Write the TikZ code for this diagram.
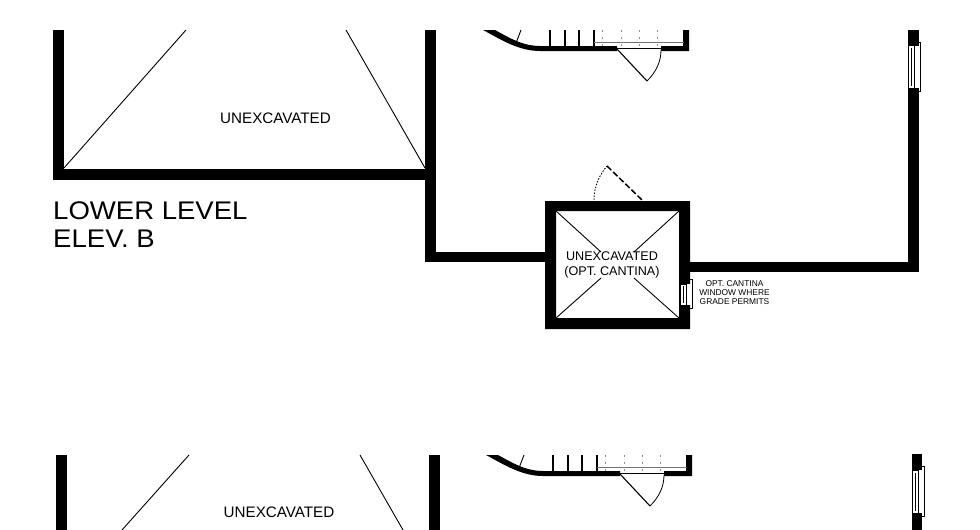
\documentclass[tikz,border=0pt]{standalone}
\usepackage{fontspec}
\setmainfont{Liberation Sans}
\newfontfamily\widefont[FakeStretch=1.08]{Liberation Sans}
\tikzset{
  wall/.style={fill=black,draw=none},
  thin line/.style={draw=black,line width=0.9pt},
  gray line/.style={draw=black!55,line width=0.7pt},
  gray dash/.style={draw=black!45,line width=0.6pt,dash pattern=on 2pt off 5pt},
  door arc/.style={draw=black,line width=0.8pt},
  win/.style={draw=black,line width=0.8pt,fill=white},
  lbl/.style={inner sep=0pt,align=center,font=\fontsize{15.2}{17}\selectfont},
}
\newcommand{\stairblock}{%
  \fill (495,30) .. controls (508,37) and (522,46) .. (540,46) -- (617,46) -- (617,51) -- (540,51) .. controls (518,51) and (500,39) .. (483,30) -- cycle;
  \fill (661,46) -- (683,46) -- (683,30) -- (689,30) -- (689,51) -- (661,51) -- cycle;
  \draw[thin line] (617,48.5) -- (661,48.5);
  \draw[thin line,line width=1.1pt] (617,49) -- (647,81);
  \draw[door arc] (647,81) .. controls (656,72) and (661,62) .. (661,50);
  \draw[thin line] (521,30) -- (516,43);
  \foreach \sx in {550,565,579,594}{\draw[thin line,line width=1.1pt] (\sx,30) -- (\sx,47);}
  \foreach \sx in {602,621,639,657}{\draw[gray dash] (\sx,30) -- (\sx,46);}
  \draw[gray line] (594,42.5) -- (684,42.5);
}
\begin{document}
\begin{tikzpicture}[x=1pt,y=-1pt]
\useasboundingbox (0,0) rectangle (980,530);
\fill[white] (0,0) rectangle (980,530);

%% upper plan
\fill[wall] (53,30) rectangle (64,179.5);
\fill[wall] (53,169) rectangle (436,179.5);
\fill[wall] (425,30) rectangle (436,262);
\fill[wall] (425,252) rectangle (548,262);
\fill[wall,even odd rule] (545,201) rectangle (690,329) (556,211) rectangle (679,318);
\fill[wall] (690,262) rectangle (918.5,272);
\fill[wall] (908,30) rectangle (918.5,272);

\draw[thin line] (64,168) -- (186,30);
\draw[thin line] (346,30) -- (425,168);

\node[lbl] (unexTop) at (275.5,118) {UNEXCAVATED};
\node[inner sep=0pt,anchor=north west,align=left,font=\widefont\fontsize{25.5}{28}\selectfont] (level) at (53,201.5) {LOWER LEVEL\\ELEV. B};

\stairblock

% cantina diagonals
\draw[thin line] (556,211) -- (601,252);
\draw[thin line] (679,211) -- (634,252);
\draw[thin line] (556,318) -- (601,278);
\draw[thin line] (679,318) -- (634,278);
\node[lbl,font=\fontsize{12.6}{15}\selectfont] (cantina) at (612,265) {UNEXCAVATED\\(OPT. CANTINA)};

% cantina door
\draw[thin line,dash pattern=on 1.5pt off 1.5pt] (594,200) .. controls (594,186) and (600,174) .. (607,166);
\draw[black,line width=1.5pt,dash pattern=on 6pt off 2.5pt] (607,166) -- (642,200);

% cantina window
\fill[white] (679.5,284) rectangle (690.5,305);
\draw[win] (680,284) rectangle (686,305);
\draw[thin line,line width=0.5pt] (683,286) -- (683,303);
\draw[thin line] (690,279) -- (692.5,279) -- (692.5,308.5) -- (690,308.5);
\node[inner sep=0pt,align=center,font=\fontsize{8.4}{9.3}\selectfont] (note) at (734.5,292.5) {OPT. CANTINA\\WINDOW WHERE\\GRADE PERMITS};

% right window, upper
\fill[white] (907.5,45.5) rectangle (919,88);
\draw[win] (908,45.5) rectangle (914,88);
\draw[thin line,line width=0.5pt] (911,48) -- (911,86);
\draw[thin line] (917,42) -- (920.5,42) -- (920.5,91) -- (917,91);

%% lower plan
\fill[wall] (56,455) rectangle (66.5,530);
\fill[wall] (429,455) rectangle (440,530);
\fill[wall] (912,454) rectangle (922,530);
\draw[thin line] (189,455) -- (122,530);
\draw[thin line] (360,455) -- (403,530);
\node[lbl] (unexBot) at (279,512) {UNEXCAVATED};
\begin{scope}[shift={(3,425)}]
\stairblock
\end{scope}
\fill[white] (911.5,470) rectangle (923,513);
\draw[win] (912,470) rectangle (918,513);
\draw[thin line,line width=0.5pt] (915,473) -- (915,511);
\draw[thin line] (921,466) -- (924,466) -- (924,516) -- (921,516);
\end{tikzpicture}
\end{document}
